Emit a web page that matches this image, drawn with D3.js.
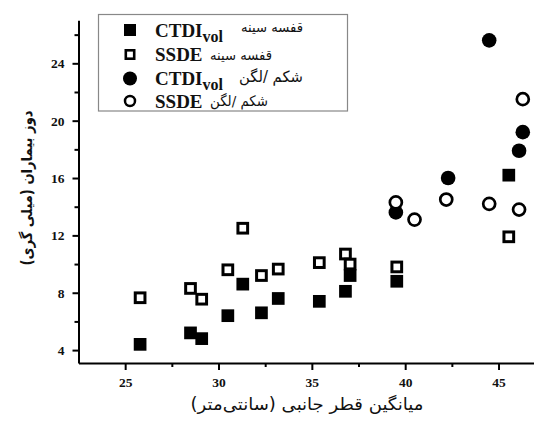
<!DOCTYPE html>
<html>
<head>
<meta charset="utf-8">
<script src="https://cdn.jsdelivr.net/npm/d3@7"></script>
<style>
  html, body { margin: 0; padding: 0; background: #fff; }
  svg { display: block; }
</style>
</head>
<body>
<div id="chart"></div>
<script>
// ---- data ----
const chestDiameter   = [25.8, 28.5, 29.1, 30.5, 31.3, 32.3, 33.2, 35.4, 36.8, 37.05, 39.55, 45.55];
const chestCTDIvol    = [4.4, 5.2, 4.8, 6.4, 8.6, 6.6, 7.6, 7.4, 8.1, 9.2, 8.8, 16.2];
const chestSSDE       = [7.65, 8.3, 7.55, 9.6, 12.5, 9.2, 9.65, 10.1, 10.7, 10.0, 9.8, 11.9];

const abdCTDIDiameter = [39.5, 42.3, 44.5, 46.1, 46.3];
const abdCTDIvol      = [13.6, 16.0, 25.6, 17.9, 19.2];
const abdSSDEDiameter = [39.5, 40.5, 42.2, 44.5, 46.1, 46.3];
const abdSSDE         = [14.3, 13.1, 14.5, 14.2, 13.8, 21.5];

const xTicks = [25, 30, 35, 40, 45];
const xMinorTicks = [27.5, 32.5, 37.5, 42.5, 47.5];
const yTicks = [4, 8, 12, 16, 20, 24];
const yMinorTicks = [6, 10, 14, 18, 22, 26];

const legendLatin   = ["CTDI", "SSDE", "CTDI", "SSDE"];
const legendSub     = ["vol", "", "vol", ""];
const legendPersian = ["قفسه سینه", "قفسه سینه", "شکم /لگن", "شکم /لگن"];

const xTitle = "میانگین قطر جانبی (سانتی‌متر)";
const yTitle = "دوز بیماران (میلی گری)";

// ---- layout ----
const W = 534, H = 424;
const svg = d3.select("#chart").append("svg").attr("width", W).attr("height", H)
  .style("background", "#fff");

const x = d3.scaleLinear().domain([22.5, 47.5]).range([78.5, 545.2]);
const y = d3.scaleLinear().domain([3.1, 27]).range([363, 20.3]);

const tickFont = "'Liberation Serif', 'Times New Roman', serif";
const faFont = "'DejaVu Sans', sans-serif";

// axes
const gx = svg.append("g").attr("transform", `translate(0,${y.range()[0]})`)
  .call(d3.axisBottom(x).tickValues(xTicks).tickSize(7).tickPadding(7).tickSizeOuter(0).tickFormat(d3.format("d")));
const gxm = svg.append("g").attr("transform", `translate(0,${y.range()[0]})`)
  .call(d3.axisBottom(x).tickValues(xMinorTicks).tickSize(4).tickSizeOuter(0).tickFormat(""));
const gy = svg.append("g").attr("transform", `translate(${x.range()[0]},0)`)
  .call(d3.axisLeft(y).tickValues(yTicks).tickSize(6).tickPadding(8).tickSizeOuter(0).tickFormat(d3.format("d")));
const gym = svg.append("g").attr("transform", `translate(${x.range()[0]},0)`)
  .call(d3.axisLeft(y).tickValues(yMinorTicks).tickSize(4).tickSizeOuter(0).tickFormat(""));

[gx, gxm, gy, gym].forEach(g => {
  g.selectAll(".domain").attr("stroke", "#000").attr("stroke-width", 2);
  g.selectAll(".tick line").attr("stroke", "#000").attr("stroke-width", 2);
  g.selectAll(".tick text").attr("font-family", tickFont).attr("font-weight", "bold")
    .attr("font-size", 13.5).attr("fill", "#111");
});
gxm.select(".domain").remove();
gym.select(".domain").remove();

// axis titles
svg.append("text").attr("x", 307).attr("y", 410).attr("text-anchor", "middle")
  .attr("direction", "rtl").attr("font-family", faFont).attr("font-size", 17)
  .attr("textLength", 233).attr("lengthAdjust", "spacingAndGlyphs")
  .attr("fill", "#111").text(xTitle);
svg.append("text").attr("transform", "translate(32,188) rotate(-90)").attr("text-anchor", "middle")
  .attr("direction", "rtl").attr("font-family", faFont).attr("font-size", 15).attr("font-weight", "bold")
  .attr("textLength", 155).attr("lengthAdjust", "spacingAndGlyphs")
  .attr("fill", "#111").text(yTitle);

// markers
const sq = 12.7, osq = 9.7, oStroke = 3;
const chest = chestDiameter.map((d, i) => ({ d, c: chestCTDIvol[i], s: chestSSDE[i] }));

svg.append("g").selectAll("rect").data(chest).join("rect")
  .attr("x", p => x(p.d) - sq / 2).attr("y", p => y(p.c) - sq / 2)
  .attr("width", sq).attr("height", sq).attr("fill", "#000");

svg.append("g").selectAll("rect").data(chest).join("rect")
  .attr("x", p => x(p.d) - osq / 2).attr("y", p => y(p.s) - osq / 2)
  .attr("width", osq).attr("height", osq).attr("fill", "#fff")
  .attr("stroke", "#000").attr("stroke-width", oStroke);

svg.append("g").selectAll("circle").data(abdCTDIDiameter.map((d, i) => ({ d, v: abdCTDIvol[i] }))).join("circle")
  .attr("cx", p => x(p.d)).attr("cy", p => y(p.v)).attr("r", 7.3).attr("fill", "#000");

svg.append("g").selectAll("circle").data(abdSSDEDiameter.map((d, i) => ({ d, v: abdSSDE[i] }))).join("circle")
  .attr("cx", p => x(p.d)).attr("cy", p => y(p.v)).attr("r", 6).attr("fill", "#fff")
  .attr("stroke", "#000").attr("stroke-width", 2.7);

// legend
const lg = svg.append("g");
lg.append("rect").attr("x", 98.5).attr("y", 14.5).attr("width", 249).attr("height", 96.5)
  .attr("fill", "#fff").attr("stroke", "#888").attr("stroke-width", 1.2);

const rowY = [30, 54.5, 78.5, 101];
const mx = 130;
lg.append("rect").attr("x", mx - 6).attr("y", rowY[0] - 6).attr("width", 12).attr("height", 12).attr("fill", "#000");
lg.append("rect").attr("x", mx - 4.2).attr("y", rowY[1] - 4.2).attr("width", 8.4).attr("height", 8.4)
  .attr("fill", "#fff").attr("stroke", "#000").attr("stroke-width", 2.6);
lg.append("circle").attr("cx", mx).attr("cy", rowY[2]).attr("r", 7).attr("fill", "#000");
lg.append("circle").attr("cx", mx).attr("cy", rowY[3]).attr("r", 5).attr("fill", "#fff")
  .attr("stroke", "#000").attr("stroke-width", 2.5);

const latY = [37, 61, 85, 108];
legendLatin.forEach((t, i) => {
  const tx = lg.append("text").attr("x", 155).attr("y", latY[i])
    .attr("font-family", tickFont).attr("font-weight", "bold").attr("font-size", 19).attr("fill", "#111");
  tx.append("tspan").text(t);
  if (legendSub[i]) tx.append("tspan").attr("dy", 5).attr("font-size", 16).text(legendSub[i]);
});
const faX = [241, 210, 239, 210];
const faY = [32, 60, 82, 106];
const faS = [13.5, 14, 15.5, 14.5];
const faL = [62, 62, 64, 58];
legendPersian.forEach((t, i) => {
  lg.append("text").attr("x", faX[i]).attr("y", faY[i]).attr("direction", "rtl").attr("text-anchor", "end")
    .attr("font-family", faFont).attr("font-size", faS[i]).attr("fill", "#111")
    .attr("textLength", faL[i]).attr("lengthAdjust", "spacingAndGlyphs").text(t);
});
</script>
</body>
</html>
